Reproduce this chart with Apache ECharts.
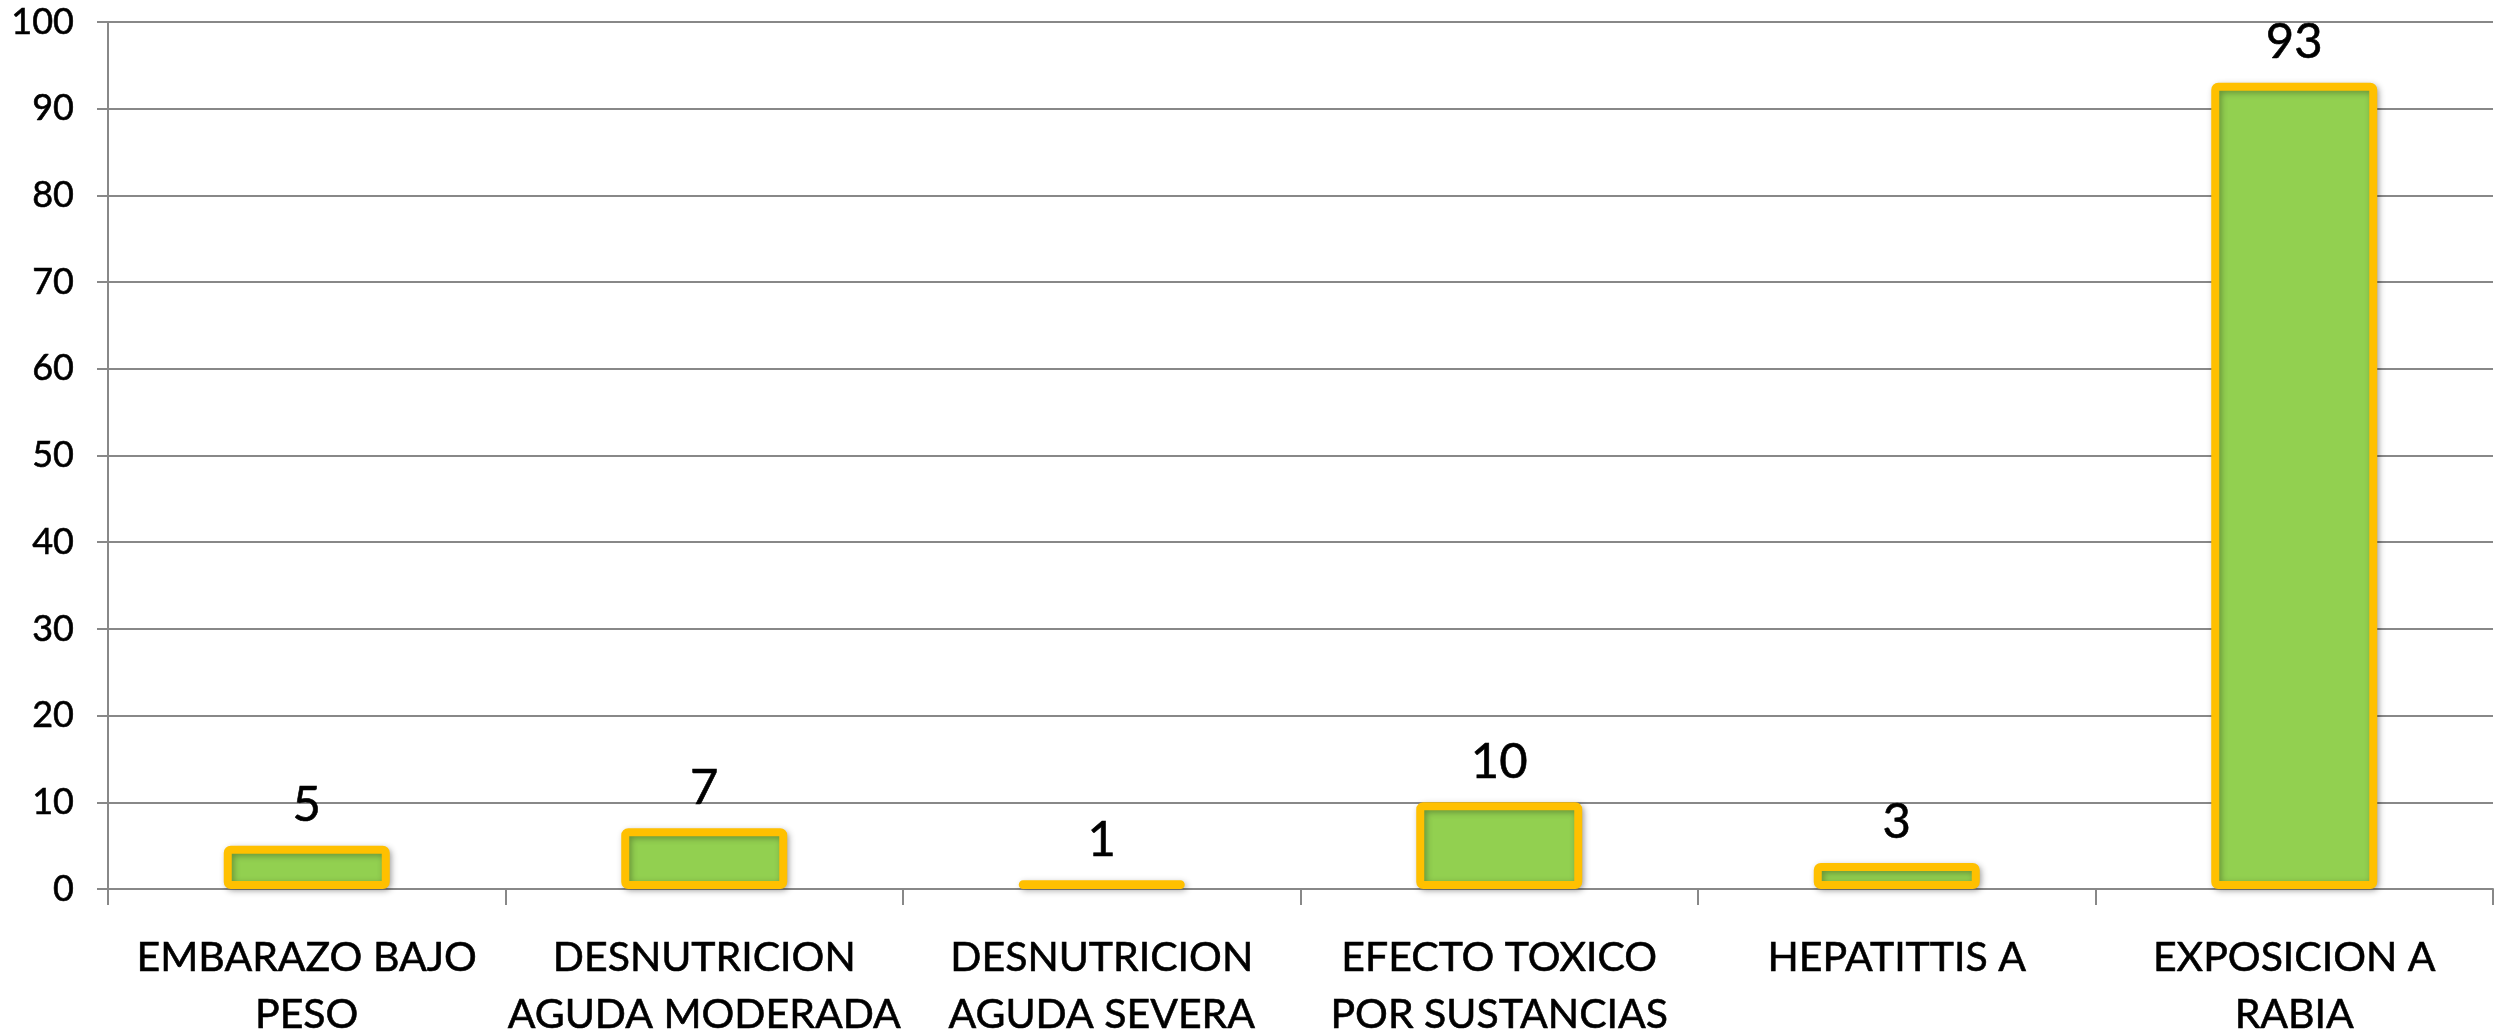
<!DOCTYPE html>
<html>
<head>
<meta charset="utf-8">
<style>html,body{margin:0;padding:0;background:#fff;}#c{width:2503px;height:1035px;}</style>
<script src="https://cdn.jsdelivr.net/npm/echarts@6/dist/echarts.min.js"></script>
</head>
<body>
<div id="c"></div>
<script>
var categories = ["EMBARAZO BAJO\nPESO", "DESNUTRICION\nAGUDA MODERADA", "DESNUTRICION\nAGUDA SEVERA", "EFECTO TOXICO\nPOR SUSTANCIAS", "HEPATITTIS A", "EXPOSICION A\nRABIA"];
var values = [5, 7, 1, 10, 3, 93];
var yTicks = { min: 0, max: 100, interval: 10 };

var chart = echarts.init(document.getElementById('c'));
var font = 'Lato, "Open Sans", sans-serif';
var ink = { color: '#000', textBorderColor: '#000', textBorderWidth: 0.6, fontFamily: font };
chart.setOption({
  animation: false,
  grid: { left: 108, right: 10, top: 22, bottom: 146, containLabel: false, outerBoundsMode: 'none' },
  xAxis: {
    type: 'category',
    data: categories,
    axisLine: { lineStyle: { color: '#888888', width: 2 } },
    axisTick: { show: true, length: 16, lineStyle: { color: '#888888', width: 2 } },
    axisLabel: Object.assign({}, ink, { fontSize: 41, lineHeight: 57, margin: 40, interval: 0 })
  },
  yAxis: {
    type: 'value',
    min: yTicks.min, max: yTicks.max, interval: yTicks.interval,
    axisLine: { show: true, lineStyle: { color: '#888888', width: 2 } },
    axisTick: { show: true, length: 11, lineStyle: { color: '#888888', width: 2 } },
    splitLine: { lineStyle: { color: '#888888', width: 2 } },
    axisLabel: Object.assign({}, ink, { fontSize: 36, margin: 34 })
  },
  series: [{
    type: 'bar',
    data: values,
    barWidth: 166,
    itemStyle: {
      color: '#92D050',
      borderColor: '#FFC000',
      borderWidth: 8,
      borderRadius: 3,
      shadowBlur: 6,
      shadowColor: 'rgba(0,0,0,0.3)',
      shadowOffsetX: 2,
      shadowOffsetY: 2
    },
    label: Object.assign({ show: true, position: 'top', distance: 16 }, ink, { fontSize: 49 })
  }]
});
</script>
</body>
</html>
